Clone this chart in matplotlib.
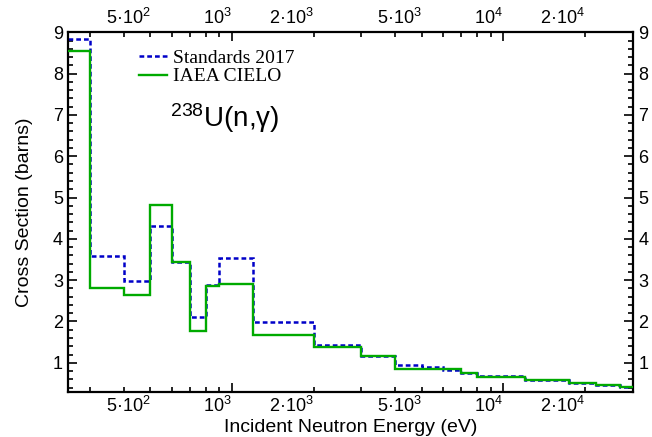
import matplotlib
matplotlib.use("Agg")
import matplotlib.pyplot as plt
from matplotlib.ticker import FixedLocator, FuncFormatter

plt.rcParams["font.family"] = ["Liberation Sans", "DejaVu Sans"]
plt.rcParams["mathtext.fontset"] = "custom"
plt.rcParams["mathtext.rm"] = "Liberation Sans"
plt.rcParams["mathtext.it"] = "Liberation Sans:italic"
plt.rcParams["mathtext.bf"] = "Liberation Sans:bold"

# Group boundaries (eV) and group-averaged 238U capture cross sections (barns)
energy_edges = [250, 300, 400, 500, 600, 700, 800, 900, 1200, 2000, 3000,
                4000, 5000, 6000, 7000, 8000, 12000, 17500, 22000, 27000, 30000]
standards_2017 = [8.83, 3.58, 2.98, 4.30, 3.44, 2.12, 2.89, 3.54, 1.99, 1.42,
                  1.16, 0.94, 0.90, 0.83, 0.75, 0.67, 0.59, 0.52, 0.47, 0.41]
iaea_cielo = [8.55, 2.81, 2.64, 4.81, 3.44, 1.76, 2.85, 2.90, 1.68, 1.37,
              1.16, 0.86, 0.86, 0.86, 0.75, 0.66, 0.59, 0.52, 0.47, 0.41]

# Axis ticks
x_major = [1e3, 1e4]
x_minor = [300, 400, 500, 600, 700, 800, 900,
           2000, 3000, 4000, 5000, 6000, 7000, 8000, 9000, 20000]
x_labels = {500: r"$5·10^{2}$", 1000: r"$10^{3}$", 2000: r"$2·10^{3}$",
            5000: r"$5·10^{3}$", 10000: r"$10^{4}$", 20000: r"$2·10^{4}$"}
y_major = [1, 2, 3, 4, 5, 6, 7, 8, 9]

fig = plt.figure(figsize=(6.52, 4.37), dpi=100)
ax = fig.add_axes([0.105, 0.1037, 0.8654, 0.8224])

ax.stairs(standards_2017, energy_edges, baseline=None, color="#0000c8",
          lw=1.8, linestyle=(0, (1.9, 1.2)), label="Standards 2017", zorder=2)
ax.stairs(iaea_cielo, energy_edges, baseline=None, color="#00aa00",
          lw=1.7, label="IAEA CIELO", zorder=3)

ax.set_xscale("log")
ax.set_xlim(energy_edges[0], energy_edges[-1])
ax.set_ylim(0.3, 9)

ax.xaxis.set_major_locator(FixedLocator(x_major))
ax.xaxis.set_minor_locator(FixedLocator(x_minor))
fmt = FuncFormatter(lambda v, pos: x_labels.get(int(round(v)), ""))
ax.xaxis.set_major_formatter(fmt)
ax.xaxis.set_minor_formatter(fmt)

ax.set_yticks(y_major)
ax.yaxis.set_minor_locator(FixedLocator(
    [v / 5 for v in range(2, 46) if v % 5 != 0]))

ax.tick_params(which="both", direction="in", top=True, right=True,
               labeltop=True, labelright=True, width=1.2, labelsize=13,
               color="black")
ax.tick_params(which="major", length=6.5)
ax.tick_params(which="minor", length=3.3)
ax.tick_params(axis="x", which="both", pad=3)
ax.tick_params(axis="y", which="both", pad=4)

for t in ax.xaxis.get_major_ticks() + ax.xaxis.get_minor_ticks():
    t.label1.set_horizontalalignment("right")
    t.label2.set_horizontalalignment("right")

for s in ax.spines.values():
    s.set_linewidth(1.6)

ax.set_xlabel("Incident Neutron Energy (eV)", fontsize=14, labelpad=2)
ax.set_ylabel("Cross Section (barns)", fontsize=14, labelpad=14)

ax.text(0.18, 0.737, r"$^{238}\mathrm{U(n{,}γ)}$", transform=ax.transAxes,
        fontsize=20, ha="left", va="baseline")

ax.legend(loc="upper left", bbox_to_anchor=(0.125, 0.953), frameon=False,
          prop={"family": "Liberation Serif", "size": 14},
          handlelength=1.45, handletextpad=0.3, labelspacing=0.05,
          borderpad=0, borderaxespad=0)

fig.savefig("out.png", dpi=100)
